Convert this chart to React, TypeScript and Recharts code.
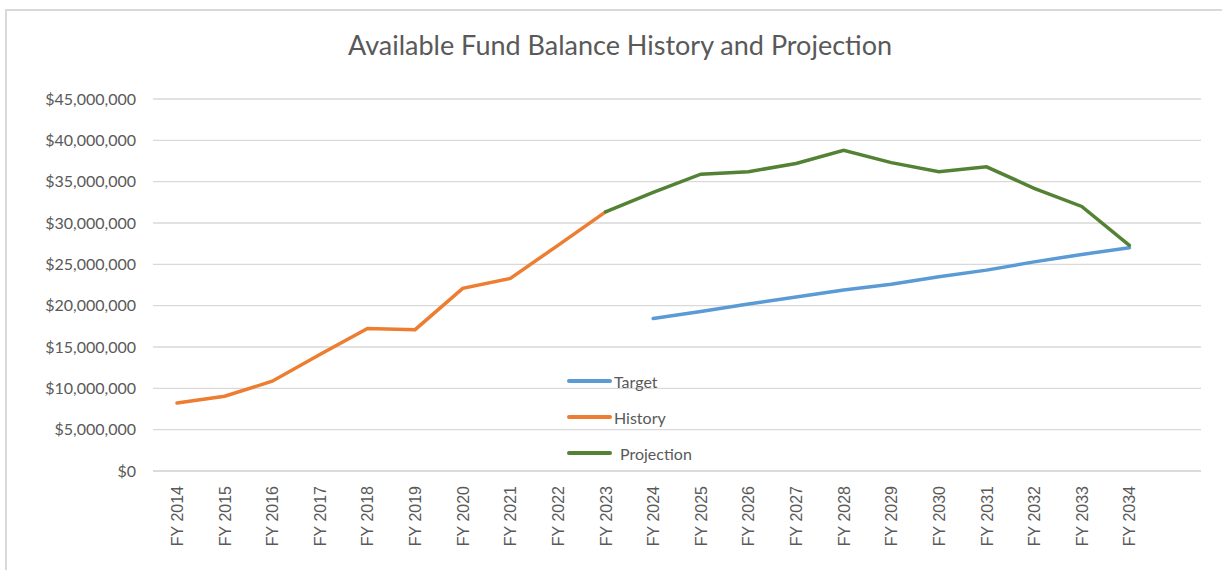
import { LineChart, Line, XAxis, YAxis, CartesianGrid } from 'recharts';

const years = [
  'FY 2014', 'FY 2015', 'FY 2016', 'FY 2017', 'FY 2018', 'FY 2019', 'FY 2020',
  'FY 2021', 'FY 2022', 'FY 2023', 'FY 2024', 'FY 2025', 'FY 2026', 'FY 2027',
  'FY 2028', 'FY 2029', 'FY 2030', 'FY 2031', 'FY 2032', 'FY 2033', 'FY 2034', ''
];

const history = [
  8230000, 9040000, 10860000, 14100000, 17240000, 17100000, 22100000,
  23300000, 27300000, 31350000, null, null, null, null,
  null, null, null, null, null, null, null, null
];

const projection = [
  null, null, null, null, null, null, null,
  null, null, 31350000, 33700000, 35900000, 36200000, 37200000,
  38800000, 37300000, 36200000, 36800000, 34200000, 32000000, 27300000, null
];

const target = [
  null, null, null, null, null, null, null,
  null, null, null, 18450000, 19300000, 20200000, 21060000,
  21900000, 22600000, 23500000, 24300000, 25300000, 26200000, 27000000, null
];

const yTicks = [0, 5000000, 10000000, 15000000, 20000000, 25000000, 30000000, 35000000, 40000000, 45000000];

const chartData = years.map((year, i) => ({
  year,
  target: target[i],
  history: history[i],
  projection: projection[i],
}));

const legendItems = [
  { name: 'Target', color: '#5B9BD5', gap: 2 },
  { name: 'History', color: '#ED7D31', gap: 2 },
  { name: 'Projection', color: '#548235', gap: 8 },
];

const money = (v: number) => '$' + v.toLocaleString('en-US');

const YearTick = (props: any) => {
  const { x, y, payload } = props;
  return (
    <text
      x={0}
      y={0}
      transform={`translate(${x + 6},${y + 7}) rotate(-90)`}
      textAnchor="end"
      fill="#595959"
      fontSize={16}
      fontFamily="'Liberation Sans', Arial, sans-serif"
    >
      {payload.value}
    </text>
  );
};

export default function App() {
  return (
    <div style={{ position: 'absolute', left: 0, top: 0, width: 1222, height: 570, background: '#fff', overflow: 'hidden' }}>
      <div
        style={{
          position: 'absolute', left: 5, top: 9, width: 1300, height: 700,
          borderTop: '2px solid #d9d9d9', borderLeft: '2px solid #d9d9d9',
        }}
      />
      <div
        style={{
          position: 'absolute', left: 0, top: 28, width: 1240, textAlign: 'center',
          fontFamily: 'Lato, sans-serif', fontSize: 27, color: '#595959',
        }}
      >
        Available Fund Balance History and Projection
      </div>
      <LineChart
        width={1222}
        height={570}
        data={chartData}
        margin={{ top: 99, right: 21, bottom: 0, left: 0 }}
        style={{ position: 'absolute', left: 0, top: 0 }}
      >
        <CartesianGrid vertical={false} stroke="#d9d9d9" strokeWidth={1.3} />
        <XAxis
          dataKey="year"
          interval={0}
          padding={{ left: 24, right: 24 }}
          axisLine={{ stroke: '#d9d9d9', strokeWidth: 1.3 }}
          tickLine={false}
          tick={<YearTick />}
          height={99}
        />
        <YAxis
          width={153}
          domain={[0, 45000000]}
          ticks={yTicks}
          tickFormatter={money}
          axisLine={false}
          tickLine={false}
          tickMargin={11}
          tick={{ fill: '#595959', fontSize: 16, fontFamily: 'Lato, sans-serif' }}
        />
        <Line type="linear" dataKey="target" name="Target" stroke="#5B9BD5" strokeWidth={3.5} dot={false} isAnimationActive={false} strokeLinecap="round" />
        <Line type="linear" dataKey="history" name="History" stroke="#ED7D31" strokeWidth={3.5} dot={false} isAnimationActive={false} strokeLinecap="round" />
        <Line type="linear" dataKey="projection" name="Projection" stroke="#548235" strokeWidth={3.5} dot={false} isAnimationActive={false} strokeLinecap="round" />
      </LineChart>
      <div
        style={{
          position: 'absolute', left: 567, top: 363,
          fontFamily: 'Lato, sans-serif', fontSize: 16, color: '#595959',
        }}
      >
        {legendItems.map((item) => (
          <div key={item.name} style={{ display: 'flex', alignItems: 'center', height: 36 }}>
            <div style={{ width: 45, height: 4, borderRadius: 2, background: item.color }} />
            <span style={{ marginLeft: item.gap }}>{item.name}</span>
          </div>
        ))}
      </div>
    </div>
  );
}
